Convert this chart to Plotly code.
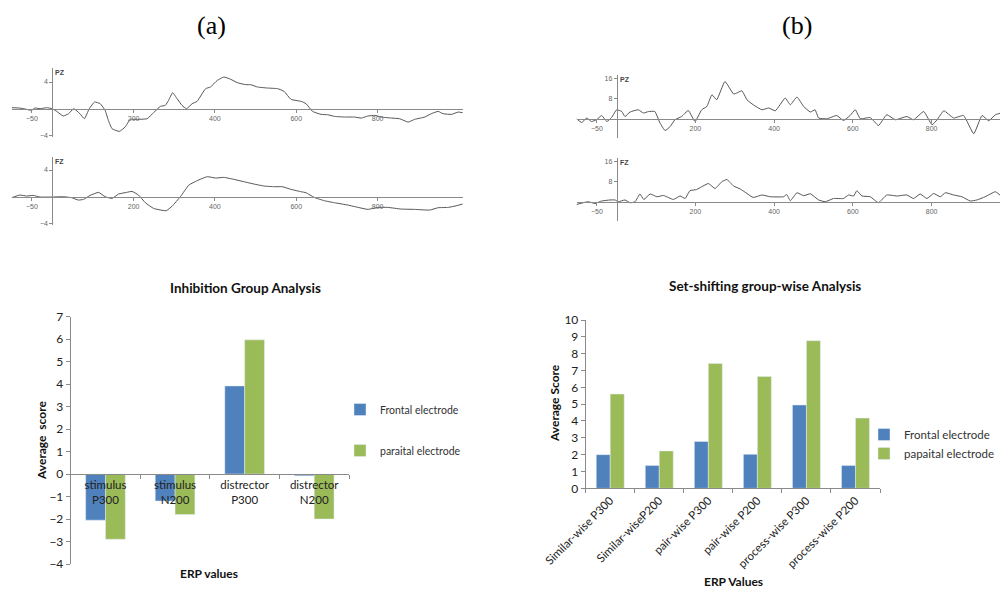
import plotly.graph_objects as go

# The page body has an 8px default margin, so the figure is drawn 8px in from the window corner.
OFF = 8
W, H = 1008 - OFF, 589 - OFF

# ---------------- ERP waveform data (ms, microvolts) ----------------
pz_a_t = [-100, -80, -63, -51, -43, -30, -14, 0, 11, 27, 40, 53, 68, 79, 91, 104, 118, 130, 138, 147,
          165, 179, 192, 204, 233, 249, 266, 278, 286, 296, 307, 319, 330, 344, 356, 377, 389, 406, 422,
          439, 455, 476, 488, 505, 529, 554, 570, 587, 612, 624, 640, 661, 677, 694, 719, 743, 760, 776,
          793, 809, 834, 854, 875, 891, 916, 932, 949, 961, 982, 998, 1009]
pz_a_v = [0.15, 0.1, -0.1, -0.25, 0.1, 0.0, 0.15, 0.0, -0.4, -1.1, -0.75, 0.0, -0.75, -1.5, 0.0, 1.0, 0.75,
          -0.25, -1.75, -3.0, -3.4, -2.75, -1.6, -1.6, -1.5, -0.6, 0.35, 0.5, 1.25, 2.4, 1.5, 0.5, 0.0, 0.75,
          1.1, 3.0, 3.25, 4.25, 4.75, 4.4, 3.9, 3.6, 3.6, 3.25, 3.1, 3.0, 2.6, 1.4, 1.1, 0.75, -0.4, -0.85,
          -0.9, -1.15, -1.25, -1.25, -1.4, -1.1, -1.0, -1.25, -1.4, -1.5, -2.0, -1.6, -1.25, -0.75, -0.4,
          -0.75, -0.85, -0.5, -0.6]

fz_a_t = [-100, -80, -63, -47, -30, 0, 27, 48, 64, 77, 93, 114, 130, 147, 163, 183, 196, 212, 229, 249,
          280, 295, 315, 336, 356, 381, 402, 422, 447, 471, 496, 521, 546, 566, 587, 612, 624, 644, 669,
          694, 727, 752, 776, 801, 825, 858, 891, 928, 949, 974, 994, 1009]
fz_a_v = [-0.15, 0.25, 0.1, 0.2, -0.05, -0.05, 0.0, -0.15, -0.5, -0.4, 0.2, 0.65, 0.0, -0.25, 0.4, 0.65,
          0.8, 0.25, -0.9, -1.75, -2.1, -1.4, 0.0, 1.75, 2.4, 3.0, 2.8, 2.9, 2.6, 2.25, 1.9, 1.6, 1.5, 1.5,
          1.1, 0.75, 0.6, -0.1, -0.6, -0.9, -1.25, -1.6, -1.9, -1.6, -1.6, -1.85, -1.9, -2.0, -1.65, -1.6,
          -1.35, -1.1]

pz_b_t = [-102, -89, -76, -64, -51, -38, -25, -13, 0, 13, 21, 34, 55, 68, 81, 97, 110, 123, 136, 148, 165,
          182, 199, 216, 229, 242, 254, 275, 297, 305, 318, 331, 347, 369, 386, 403, 428, 441, 458, 475,
          492, 504, 513, 534, 559, 576, 593, 606, 619, 644, 665, 686, 708, 737, 754, 780, 801, 814, 831,
          856, 881, 907, 928, 945, 962, 979, 995]
pz_b_v = [0.0, -1.5, 0.3, -1.1, -0.4, 1.3, -1.1, 0.5, 3.6, 2.9, 0.9, 2.7, 3.6, 2.3, 2.9, 2.9, -1.7, -4.7,
          -3.1, -0.4, 0.9, 3.3, -1.1, 3.6, 4.9, 9.6, 7.6, 14.9, 9.9, 10.3, 11.2, 7.6, 5.6, 3.6, 4.3, 3.2, 8.3,
          5.6, 8.7, 4.9, 2.7, 3.6, 0.3, 0.0, 1.3, -0.7, 1.3, 3.6, 0.0, 0.5, -2.7, 1.6, -0.4, 0.9, -0.4, 2.9,
          -2.4, -0.4, 3.2, 0.3, 1.3, -6.0, 1.3, -0.8, 1.6, 2.3, -0.4]

fz_b_t = [-102, -85, -72, -55, -38, -17, -4, 4, 21, 34, 47, 59, 69, 85, 102, 119, 144, 161, 174, 186, 203,
          216, 233, 250, 267, 280, 297, 314, 331, 347, 369, 390, 424, 432, 441, 458, 475, 492, 513, 530,
          551, 576, 589, 602, 610, 623, 644, 665, 686, 712, 737, 754, 771, 788, 805, 822, 835, 856, 877,
          898, 915, 936, 962, 979, 995]
fz_b_v = [-1.1, -0.4, 0.0, -0.7, 0.3, 0.7, 0.7, 0.0, 0.7, -0.4, 0.0, 3.1, 0.9, 3.1, 2.0, 2.5, 0.9, 2.3, 1.3,
          4.4, 4.9, 6.0, 7.3, 5.3, 8.0, 8.9, 6.3, 5.1, 3.3, 1.7, 2.7, 2.0, 2.0, 2.9, 0.4, 3.6, 2.4, 3.2, 0.7,
          0.0, 1.3, 1.3, 2.7, 2.3, 4.4, 2.3, 2.0, -0.4, 2.7, 2.3, 2.7, 1.3, 3.1, 1.3, 3.3, 2.0, 3.6, 2.7,
          2.0, 0.3, 0.7, 2.0, 4.0, 2.0, 0.7]

erp_x_ticks = [-50, 200, 400, 600, 800]
erp_a_y_ticks = [-4, 4]
erp_b_y_ticks = [8, 16]

# ---------------- Bar chart data ----------------
inh_categories = ["stimulus<br>P300", "stimulus<br>N200", "distrector<br>P300", "distrector<br>N200"]
inh_frontal = [-2.05, -1.2, 3.92, -0.08]
inh_parietal = [-2.9, -1.8, 5.97, -2.0]

set_categories = ["Similar-wise P300", "Similar-wiseP200", "pair-wise P300", "pair-wise P200",
                  "process-wise P300", "process-wise P200"]
set_frontal = [2.0, 1.35, 2.78, 2.02, 4.95, 1.35]
set_parietal = [5.6, 2.22, 7.42, 6.65, 8.77, 4.17]

BLUE = "#4F81BD"
GREEN = "#9BBB59"
WAVE = "#555555"
AXC = "#8a8a8a"


def px_x(p):
    return (p - OFF) / W


def px_y(p):
    return 1 - (p - OFF) / H


fig = go.Figure()

# ERP traces
erp_specs = [
    ("x", "y", pz_a_t, pz_a_v),
    ("x2", "y2", fz_a_t, fz_a_v),
    ("x3", "y3", pz_b_t, pz_b_v),
    ("x4", "y4", fz_b_t, fz_b_v),
]
for xa, ya, t, v in erp_specs:
    fig.add_trace(go.Scatter(x=t, y=v, mode="lines", xaxis=xa, yaxis=ya,
                             line=dict(color=WAVE, width=1, shape="spline", smoothing=0.4),
                             showlegend=False, hoverinfo="skip"))

# Bars (a)
fig.add_trace(go.Bar(x=inh_categories, y=inh_frontal, name="Frontal electrode", marker_color=BLUE,
                     xaxis="x5", yaxis="y5", legend="legend", legendgroup="a1"))
fig.add_trace(go.Bar(x=inh_categories, y=inh_parietal, name="paraital electrode", marker_color=GREEN,
                     xaxis="x5", yaxis="y5", legend="legend", legendgroup="a2"))
# Bars (b)
fig.add_trace(go.Bar(x=set_categories, y=set_frontal, name="Frontal electrode", marker_color=BLUE,
                     xaxis="x6", yaxis="y6", legend="legend2"))
fig.add_trace(go.Bar(x=set_categories, y=set_parietal, name="papaital electrode", marker_color=GREEN,
                     xaxis="x6", yaxis="y6", legend="legend2"))

small_font = dict(family="Liberation Sans, Arial", size=7, color="#666666")

# ERP axis geometry (page pixels)
erp_geo = [
    ((11.6, 463.0), [-100, 1010], 108.7, 52.3, (68.0, 137.0), [-4.24, 6.1], erp_a_y_ticks, "PZ"),
    ((11.6, 463.0), [-100, 1010], 196.7, 52.3, (156.7, 225.0), [-4.24, 6.0], erp_a_y_ticks, "FZ"),
    ((576.5, 1008.0), [-102, 994], 118.7, 616.7, (75.3, 138.0), [-7.7, 17.4], erp_b_y_ticks, "PZ"),
    ((576.5, 1008.0), [-102, 994], 201.7, 616.7, (158.3, 220.7), [-7.6, 17.4], erp_b_y_ticks, "FZ"),
]
layout = {}
annotations = []
for i, (xd, xr, zy, y0x, yd, yr, yt, lab) in enumerate(erp_geo):
    sfx = "" if i == 0 else str(i + 1)
    layout["xaxis" + sfx] = dict(domain=[px_x(xd[0]), px_x(xd[1])], range=xr, anchor="free",
                                 position=px_y(zy), showline=True, linecolor=AXC, linewidth=1,
                                 showgrid=False, zeroline=False, tickvals=erp_x_ticks, ticks="outside",
                                 ticklen=3, tickcolor=AXC, tickfont=small_font, fixedrange=True)
    layout["yaxis" + sfx] = dict(domain=[px_y(yd[1]), px_y(yd[0])], range=yr, anchor="free",
                                 position=px_x(y0x), showline=True, linecolor=AXC, linewidth=1,
                                 showgrid=False, zeroline=False, tickvals=yt, ticks="outside",
                                 ticklen=3, tickcolor=AXC, tickfont=small_font, fixedrange=True)
    annotations.append(dict(text="<b>" + lab + "</b>", x=px_x(y0x + 1), y=px_y(yd[0] - 1),
                            xref="paper", yref="paper", xanchor="left", yanchor="top", showarrow=False,
                            font=dict(family="Liberation Sans, Arial", size=7, color="#444444")))

tick_font = dict(family="Lato, Carlito, Calibri", size=12, color="#222222")
title_font = dict(family="Lato, Carlito, Calibri", size=13.5, color="#111111")
axis_title_font = dict(family="Lato, Carlito, Calibri", size=12, color="#111111")

# Bar chart (a)
layout["xaxis5"] = dict(domain=[px_x(70.7), px_x(349)], anchor="free", position=px_y(474.0),
                        showline=True, linecolor=AXC, linewidth=1, ticks="outside", ticklen=4,
                        tickcolor=AXC, tickson="boundaries", showgrid=False,
                        tickfont=dict(family="Lato, Carlito, Calibri", size=11.5, color="#222222"),
                        fixedrange=True)
layout["yaxis5"] = dict(domain=[px_y(564.0), px_y(316.7)], range=[-4, 7], anchor="x5", dtick=1,
                        showline=True, linecolor=AXC, linewidth=1, ticks="outside", ticklen=4,
                        tickcolor=AXC, showgrid=False, zeroline=False, tickfont=tick_font,
                        fixedrange=True)
# Bar chart (b)
layout["xaxis6"] = dict(domain=[px_x(585.7), px_x(880.0)], anchor="y6", showline=True, linecolor=AXC,
                        linewidth=1, ticks="outside", ticklen=4, tickcolor=AXC, tickson="boundaries",
                        tickangle=-45, showgrid=False,
                        tickfont=dict(family="Lato, Carlito, Calibri", size=11.5, color="#222222"),
                        fixedrange=True)
layout["yaxis6"] = dict(domain=[px_y(488.3), px_y(320.0)], range=[0, 10], anchor="x6", dtick=1,
                        showline=True, linecolor=AXC, linewidth=1, ticks="outside", ticklen=4,
                        tickcolor=AXC, showgrid=False, zeroline=False, tickfont=tick_font,
                        fixedrange=True)

# Text labels
serif = dict(family="Liberation Serif, Times New Roman", size=26, color="#000000")
annotations += [
    dict(text="(a)", x=px_x(211), y=px_y(25), font=serif),
    dict(text="(b)", x=px_x(797), y=px_y(25), font=serif),
    dict(text="<b>Inhibition Group Analysis</b>", x=px_x(245), y=px_y(288), font=title_font),
    dict(text="<b>Set-shifting group-wise Analysis</b>", x=px_x(765), y=px_y(286), font=title_font),
    dict(text="<b>Average  score</b>", x=px_x(41), y=px_y(441), textangle=-90, font=axis_title_font),
    dict(text="<b>ERP values</b>", x=px_x(209), y=px_y(573), font=axis_title_font),
    dict(text="<b>Average Score</b>", x=px_x(554), y=px_y(403), textangle=-90, font=axis_title_font),
    dict(text="<b>ERP Values</b>", x=px_x(733), y=px_y(581), font=axis_title_font),
]
for a in annotations[-8:]:
    a.update(xref="paper", yref="paper", showarrow=False, xanchor="center", yanchor="middle")

fig.update_layout(
    width=W, height=H, margin=dict(l=0, r=0, t=0, b=0, autoexpand=False),
    paper_bgcolor="white", plot_bgcolor="rgba(0,0,0,0)",
    barmode="group", bargap=0.43, bargroupgap=0,
    annotations=annotations,
    legend=dict(x=px_x(340), y=px_y(395), xanchor="left", yanchor="top", bgcolor="rgba(0,0,0,0)",
                font=dict(family="Lato, Carlito, Calibri", size=10.5, color="#333333"),
                traceorder="grouped", tracegroupgap=22, itemwidth=30),
    legend2=dict(x=px_x(864), y=px_y(420), xanchor="left", yanchor="top", bgcolor="rgba(0,0,0,0)",
                 font=dict(family="Lato, Carlito, Calibri", size=11.5, color="#333333"),
                 tracegroupgap=0, itemwidth=30),
    showlegend=True,
    **layout,
)

fig.write_html("out.html", include_plotlyjs=True, config={"displayModeBar": False})
